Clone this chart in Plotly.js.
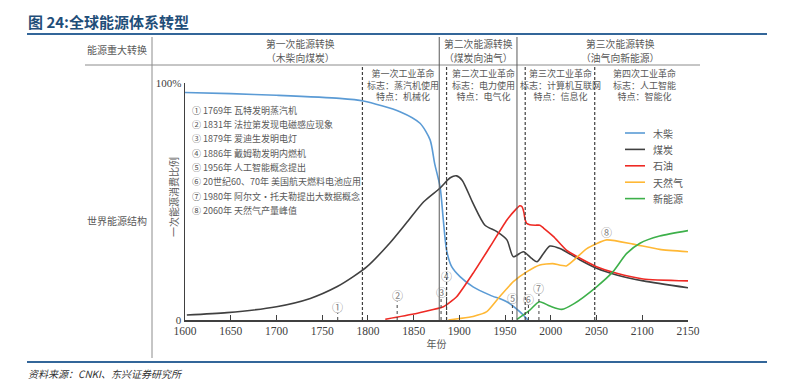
<!DOCTYPE html>
<html>
<head>
<meta charset="utf-8">
<script src="https://cdn.plot.ly/plotly-3.0.1.min.js"></script>
<style>html,body{margin:0;padding:0;background:#fff;}#chart{width:801px;height:383px;}</style>
</head>
<body>
<div id="chart"></div>
<script>
// ---- data ----
const woodYears = [1600, 1650, 1700, 1769, 1795, 1835, 1857, 1868, 1873, 1879, 1882.5, 1886, 1891.6, 1900.7, 1915, 1933.5, 1951.8, 1966, 1975];
const woodVals  = [96, 95.5, 94.8, 93.5, 92.4, 87.9, 83, 76, 66, 56, 42, 29.5, 22.5, 18.3, 14, 10.5, 7.7, 3.5, 0];

const coalYears = [1602, 1646, 1700, 1737, 1766, 1784, 1799, 1824, 1842, 1861, 1879, 1890, 1897, 1903, 1915, 1928, 1941, 1952, 1959, 1970, 1979, 1985, 1992, 1999, 2010, 2032, 2050, 2072, 2101, 2150];
const coalVals  = [2.1, 3.1, 5.6, 9.1, 14, 18.3, 22.5, 32.5, 40.9, 49.9, 55.7, 60, 60.8, 59, 49.2, 40, 37.3, 33.8, 26.7, 28.8, 26, 24.6, 28.1, 31.2, 30.2, 25.3, 21.8, 19, 16.5, 13.6];

const oilYears = [1819, 1850, 1861, 1882.5, 1897, 1915, 1933.5, 1952, 1962, 1966, 1968.5, 1970.5, 1971.8, 1973.5, 1977, 1983, 1988, 1992, 2003, 2017, 2035.5, 2050, 2072, 2101, 2150];
const oilVals  = [0.3, 2.5, 3.5, 5.6, 9.8, 19.7, 30.9, 42.2, 46.8, 48.2, 47.8, 45.5, 42.5, 40.8, 40.2, 40, 40, 38.8, 35.2, 29.5, 25.3, 22.5, 19.7, 17.3, 16.5];

const gasYears = [1888, 1900, 1915, 1930, 1944, 1959, 1974, 1988, 2002, 2017, 2039, 2061, 2090, 2119, 2150];
const gasVals  = [0, 0.6, 1.5, 3.5, 9.8, 16.2, 20.4, 23.2, 23.8, 22.8, 30, 33.8, 32, 29.8, 28.8];

const newYears = [1963, 1977, 1987.5, 1999, 2012, 2025, 2050, 2068, 2083, 2097.5, 2119, 2150];
const newVals  = [0.3, 4.2, 7.7, 5.9, 4.5, 6.8, 14, 20.4, 28.1, 32.4, 35.4, 37.7];

const seriesNames = ['木柴', '煤炭', '石油', '天然气', '新能源'];

const xTickVals = [1600, 1650, 1700, 1750, 1800, 1850, 1900, 1950, 2000, 2050, 2100, 2150];

const eventMarks   = ['①', '②', '③', '④', '⑤', '⑥', '⑦', '⑧'];
const eventYears   = [1767, 1832, 1880, 1886, 1958, 1975.5, 1987, 2061];
const eventHeights = [5.5, 10.5, 11.8, 18.6, 9.3, 8.9, 13.5, 37];
const eventTexts = [
  '① 1769年 瓦特发明蒸汽机',
  '② 1831年 法拉第发现电磁感应现象',
  '③ 1879年 爱迪生发明电灯',
  '④ 1886年 戴姆勒发明内燃机',
  '⑤ 1956年 人工智能概念提出',
  '⑥ 20世纪60、70年 美国航天燃料电池应用',
  '⑦ 1980年 阿尔文・托夫勒提出大数据概念',
  '⑧ 2060年 天然气产量峰值'
];

const transitionTitles = ['第一次能源转换', '第二次能源转换', '第三次能源转换'];
const transitionSubs = ['（木柴向煤炭）', '（煤炭向油气）', '（油气向新能源）'];
const revolutionTexts = [
  '第一次工业革命<br>标志：蒸汽机使用<br>特点：机械化',
  '第二次工业革命<br>标志：电力使用<br>特点：电气化',
  '第三次工业革命<br>标志：计算机互联网<br>特点：信息化',
  '第四次工业革命<br>标志：人工智能<br>特点：智能化'
];
const solidDividerYears = [1878, 1963];
const dashedDividerYears = [1794, 1886, 1972, 2048];

// ---- layout helpers ----
const W = 801, H = 383;
const px = x => x / W;
const py = y => 1 - y / H;
const CJK = '"Noto Sans CJK SC", "Noto Sans", sans-serif';
const SERIF = '"Liberation Serif", "DejaVu Serif", serif';
const gray = '#595959';

const colors = ['#5b9bd5', '#404040', '#ee2a24', '#ffb835', '#3db04a'];
const smooth = [0.7, 0.7, 0.5, 0.5, 0.7];
const allX = [woodYears, coalYears, oilYears, gasYears, newYears];
const allY = [woodVals, coalVals, oilVals, gasVals, newVals];

const traces = seriesNames.map((n, i) => ({
  type: 'scatter', mode: 'lines', name: n,
  x: allX[i], y: allY[i],
  line: {color: colors[i], width: 1.6, shape: 'spline', smoothing: smooth[i]},
  hoverinfo: 'skip', showlegend: false
}));

const shapes = [];
const annotations = [];
const ann = o => annotations.push(Object.assign({showarrow: false, borderpad: 0, xref: 'paper', yref: 'paper', yanchor: 'middle'}, o));

// rules
shapes.push({type: 'line', xref: 'paper', yref: 'paper', x0: px(27), x1: px(767), y0: py(34), y1: py(34), line: {color: '#336699', width: 2}});
shapes.push({type: 'line', xref: 'paper', yref: 'paper', x0: px(27), x1: px(767), y0: py(362), y1: py(362), line: {color: '#336699', width: 2}});
// header row line
shapes.push({type: 'line', xref: 'paper', yref: 'paper', x0: px(85), x1: px(700), y0: py(65), y1: py(65), line: {color: '#8c8c8c', width: 1}});
// left column divider
shapes.push({type: 'line', xref: 'paper', yref: 'paper', x0: px(152), x1: px(152), y0: py(37), y1: py(358), line: {color: '#8c8c8c', width: 1}});

solidDividerYears.forEach(yr => shapes.push({type: 'line', xref: 'x', yref: 'paper', x0: yr, x1: yr, y0: py(320), y1: py(37), line: {color: '#595959', width: 1}}));
dashedDividerYears.forEach(yr => shapes.push({type: 'line', xref: 'x', yref: 'paper', x0: yr, x1: yr, y0: py(320), y1: py(66), line: {color: '#404040', width: 1.2, dash: '3px,2px'}}));

// event markers
eventYears.forEach((yr, i) => {
  if (i < 7) shapes.push({type: 'line', xref: 'x', yref: 'y', x0: yr, x1: yr, y0: 0, y1: eventHeights[i] - 2.6, line: {color: '#404040', width: 1, dash: 'dot'}});
  ann({xref: 'x', yref: 'y', x: yr, y: eventHeights[i], text: eventMarks[i], font: {family: CJK, size: 11, color: '#7f7f7f'}, xanchor: 'center'});
});

// manual legend (lines + labels)
seriesNames.forEach((n, i) => {
  const yy = 133 + i * 16.4;
  shapes.push({type: 'line', xref: 'paper', yref: 'paper', x0: px(625), x1: px(645), y0: py(yy), y1: py(yy), line: {color: colors[i], width: 1.6}});
  ann({x: px(652), y: py(yy), text: n, xanchor: 'left', font: {family: CJK, size: 10, color: gray}});
});

// title
ann({x: px(27), y: py(22), text: '<b>图 24:全球能源体系转型</b>', xanchor: 'left', font: {family: CJK, size: 15, color: '#1f4e79'}});
// footer
ann({x: px(27), y: py(373), text: '<i>资料来源：CNKI、东兴证券研究所</i>', xanchor: 'left', font: {family: CJK, size: 10, color: '#333333'}});
// left column labels
ann({x: px(117), y: py(50), text: '能源重大转换', xanchor: 'center', font: {family: CJK, size: 10, color: gray}});
ann({x: px(117), y: py(220), text: '世界能源结构', xanchor: 'center', font: {family: CJK, size: 10, color: gray}});
// transition titles
const transX = [300, 478, 620];
transitionTitles.forEach((t, i) => {
  ann({x: px(transX[i]), y: py(44), text: t, xanchor: 'center', font: {family: CJK, size: 9.8, color: gray}});
  ann({x: px(transX[i]), y: py(58.2), text: transitionSubs[i], xanchor: 'center', font: {family: CJK, size: 9.8, color: gray}});
});
// revolution texts
const revX = [403, 483, 560, 644];
revolutionTexts.forEach((t, i) => ann({x: px(revX[i]), y: py(85.5), text: t, xanchor: 'center', font: {family: CJK, size: 9, color: gray}}));
// event list
eventTexts.forEach((t, i) => ann({x: px(191), y: py(110 + i * 14.4), text: t, xanchor: 'left', font: {family: CJK, size: 9, color: gray}}));
// y title
ann({x: px(173), y: py(197), text: '一次能源消费比例', textangle: -90, xanchor: 'center', font: {family: CJK, size: 10, color: gray}});

const layout = {
  width: W, height: H,
  margin: {l: 0, r: 0, t: 0, b: 0},
  paper_bgcolor: '#ffffff', plot_bgcolor: '#ffffff',
  showlegend: false,
  xaxis: {
    domain: [px(185), px(688)], range: [1600, 2150],
    tickvals: xTickVals, ticks: 'inside', ticklen: 5, tickcolor: '#404040', tickwidth: 1,
    showline: true, linecolor: '#404040', linewidth: 1.5, showgrid: false, zeroline: false,
    tickfont: {family: SERIF, size: 11.5, color: '#404040'},
    title: {text: '年份', font: {family: CJK, size: 10, color: gray}, standoff: 4},
    anchor: 'y'
  },
  yaxis: {
    domain: [py(320), py(83)], range: [0, 100],
    tickvals: [0, 100], ticktext: ['0', '100%'], ticks: '',
    showline: true, linecolor: '#404040', linewidth: 1.5, showgrid: false, zeroline: false,
    tickfont: {family: SERIF, size: 11, color: '#404040'},
    anchor: 'x'
  },
  shapes: shapes,
  annotations: annotations
};

Plotly.newPlot('chart', traces, layout, {displayModeBar: false, staticPlot: true});
</script>
</body>
</html>
